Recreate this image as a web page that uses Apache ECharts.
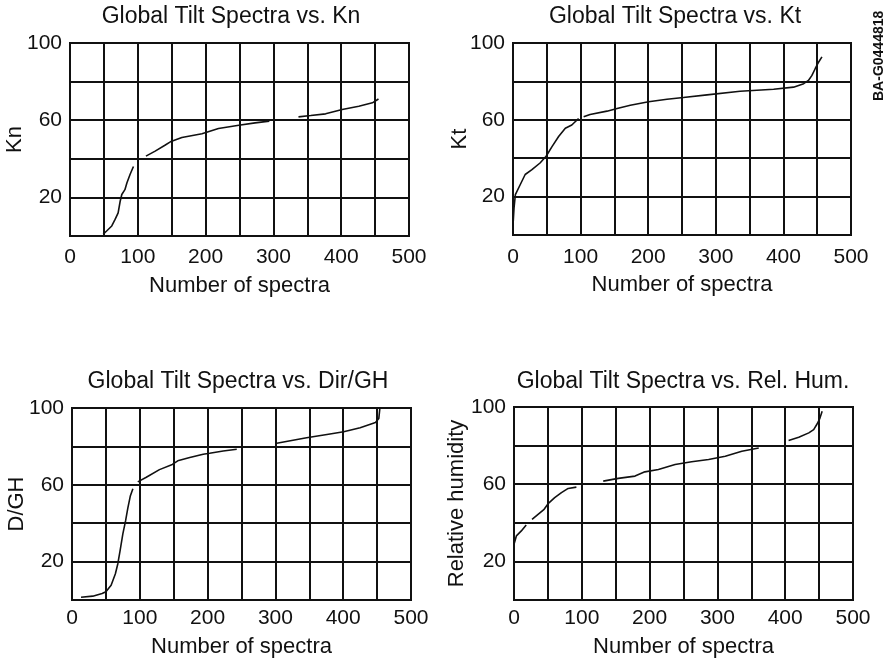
<!DOCTYPE html>
<html>
<head>
<meta charset="utf-8">
<script src="https://cdn.jsdelivr.net/npm/echarts@6/dist/echarts.min.js"></script>
<style>
  html, body { margin: 0; padding: 0; background: #fff; }
  #chart { width: 892px; height: 661px; }
</style>
</head>
<body>
<div id="chart"></div>
<script>
// Sorted per-spectrum values (x = spectrum rank, y = parameter value), drawn as line segments
const xTickValues = [0, 100, 200, 300, 400, 500];
const yTickValues = [20, 60, 100];

const knSegments = [
  [[49, 1], [54, 2.6], [61.6, 5.2], [66.5, 8.6], [71, 12], [74, 18], [76.4, 21.5], [81, 24], [84, 27.6], [88.7, 32], [93.6, 36]],
  [[112, 41.4], [125.6, 44], [140, 47], [148, 48.8], [165, 51], [194.6, 53], [219, 55.7], [249, 57.4], [273, 58.6], [294, 59.5]],
  [[337, 61.7], [355, 62.4], [377, 63.3], [401.5, 65.5], [426, 67.2], [446, 69], [455, 71]]
];

const ktSegments = [
  [[0, 5], [1.5, 14], [3.5, 21], [10.8, 26.3], [18, 31.5], [28, 34], [40, 37.5], [49, 41], [57.7, 46], [67.5, 51.3], [77.4, 55.6], [87, 57.3], [97, 60.7]],
  [[104.5, 61.6], [114, 62.8], [139, 64.5], [154, 65.9], [173.5, 67.6], [200.6, 69.4], [227.8, 70.7], [252, 71.6], [287, 73], [336, 74.9], [385.5, 75.9], [415, 77], [430, 78.8], [437, 80.5], [442, 83], [447, 86.6], [452, 90], [457, 92.8]]
];

const dghSegments = [
  [[13.3, 1.4], [30.6, 2], [44.4, 3.4], [50, 4.3], [57.7, 7.7], [64, 13.7], [67.6, 18.9], [71, 25.8], [75, 34.4], [79, 41.2], [82.4, 48], [85.9, 54], [89.8, 58]],
  [[97, 61.5], [109.6, 63.9], [129, 67.9], [148, 70.6], [156, 72.5], [173.7, 74.2], [193.5, 75.9], [203, 76.4], [223, 77.6], [243, 78.5]],
  [[302, 81.6], [346, 84.5], [376, 86.2], [400.7, 87.6], [425, 89.7], [447.6, 92.4], [452.5, 94.5], [454, 99.6]]
];

const rhSegments = [
  [[0, 28.9], [3.5, 33.2], [10.8, 35.8], [18, 38.9]],
  [[26.6, 41.8], [35.5, 44.4], [44.4, 47], [50.3, 49.9], [60, 53], [70, 55.6], [79.9, 57.8], [92, 58.5]],
  [[131.6, 61.6], [153.8, 63], [178.5, 64.2], [193, 66.4], [213, 67.6], [237.6, 70.2], [262, 71.6], [287, 72.8], [311.6, 74.5], [336, 77.1], [361, 78.8]],
  [[405, 82.6], [420, 84.3], [434.8, 86.6], [442, 88.3], [447, 91.2], [451, 94], [454.5, 97.8]]
];

const panelTitles = [
  'Global Tilt Spectra vs. Kn',
  'Global Tilt Spectra vs. Kt',
  'Global Tilt Spectra vs. Dir/GH',
  'Global Tilt Spectra vs. Rel. Hum.'
];
const yAxisNames = ['Kn', 'Kt', 'D/GH', 'Relative humidity'];
const xAxisName = 'Number of spectra';
const panelSegments = [knSegments, ktSegments, dghSegments, rhSegments];

// Plot rectangles (px) for the 2x2 layout
const gridBoxes = [
  { left: 70, top: 43, width: 339, height: 193 },
  { left: 513, top: 43, width: 338, height: 192 },
  { left: 72, top: 408, width: 339, height: 192 },
  { left: 514, top: 407, width: 339, height: 193 }
];
const yNameGaps = [44, 42, 44, 46];
const xLabelMargins = [11, 12, 8, 8];
const xNameGaps = [39, 39, 36, 36];
const titlePos = [[231, 5], [675, 5], [238, 370], [683, 370]];

const FONT = '"Liberation Sans", Arial, Helvetica, sans-serif';
const INK = '#111';

const grids = gridBoxes.map(b => Object.assign({
  show: true, borderColor: INK, borderWidth: 2, containLabel: false
}, b));

const xAxes = gridBoxes.map((b, i) => ({
  type: 'value', gridIndex: i, min: 0, max: 500, interval: 50,
  name: xAxisName, nameLocation: 'middle', nameGap: xNameGaps[i],
  nameMoveOverlap: false,
  nameTextStyle: { color: INK, fontSize: 22, fontFamily: FONT },
  axisLine: { show: true, lineStyle: { color: INK, width: 2 } },
  axisTick: { show: false },
  axisLabel: {
    color: INK, fontSize: 21, fontFamily: FONT, margin: xLabelMargins[i],
    formatter: v => (xTickValues.indexOf(v) >= 0 ? String(v) : '')
  },
  splitLine: { show: true, lineStyle: { color: INK, width: 2 } }
}));

const yAxes = gridBoxes.map((b, i) => ({
  type: 'value', gridIndex: i, min: 0, max: 100, interval: 20,
  name: yAxisNames[i], nameLocation: 'middle', nameGap: yNameGaps[i],
  nameMoveOverlap: false,
  nameTextStyle: { color: INK, fontSize: 22, fontFamily: FONT },
  axisLine: { show: true, lineStyle: { color: INK, width: 2 } },
  axisTick: { show: false },
  axisLabel: {
    color: INK, fontSize: 21, fontFamily: FONT, margin: 8,
    formatter: v => (yTickValues.indexOf(v) >= 0 ? String(v) : '')
  },
  splitLine: { show: true, lineStyle: { color: INK, width: 2 } }
}));

const series = [];
panelSegments.forEach((segs, i) => {
  segs.forEach(seg => {
    series.push({
      type: 'line', xAxisIndex: i, yAxisIndex: i, data: seg,
      showSymbol: false, smooth: false, silent: true,
      lineStyle: { color: INK, width: 1.6 }, z: 5
    });
  });
});

const graphics = panelTitles.map((t, i) => ({
  type: 'text', x: titlePos[i][0], y: titlePos[i][1], silent: true,
  style: {
    text: t, fill: INK, font: '23px ' + FONT,
    textAlign: 'center', align: 'center',
    textVerticalAlign: 'top', verticalAlign: 'top'
  }
}));
graphics.push({
  type: 'text', x: 872, y: 101, rotation: Math.PI / 2, silent: true,
  style: {
    text: 'BA-G0444818', fill: INK, font: 'bold 14px ' + FONT,
    textAlign: 'left', align: 'left',
    textVerticalAlign: 'top', verticalAlign: 'top'
  }
});

const chart = echarts.init(document.getElementById('chart'), null, { renderer: 'canvas' });
chart.setOption({
  animation: false,
  backgroundColor: '#fff',
  grid: grids,
  xAxis: xAxes,
  yAxis: yAxes,
  series: series,
  graphic: graphics
});
</script>
</body>
</html>
